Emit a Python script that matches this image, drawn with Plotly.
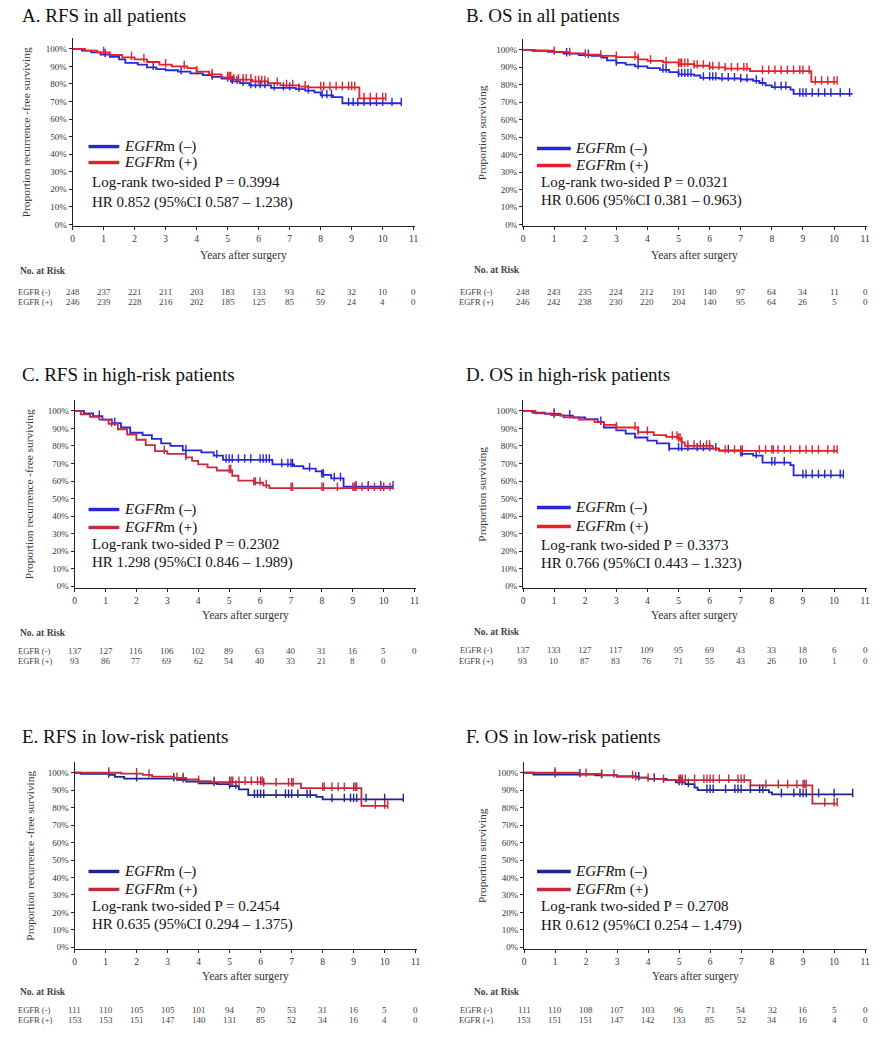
import plotly.graph_objects as go

W, H = 889, 1042
FONT = "Liberation Serif"

# ---------------- DATA ----------------
years = [0, 1, 2, 3, 4, 5, 6, 7, 8, 9, 10, 11]

# Panel A: RFS all patients
a_neg_t = [0, 0.3, 0.6, 0.9, 1.2, 1.5, 1.7, 2.1, 2.4, 2.7, 3.0, 3.4, 3.8, 4.2, 4.5, 4.8, 5.1, 5.4, 5.7, 6.4, 7.2, 7.5, 7.8, 8.0, 8.4, 8.7]
a_neg_s = [1.0, 0.99, 0.98, 0.968, 0.955, 0.94, 0.92, 0.91, 0.895, 0.885, 0.878, 0.87, 0.86, 0.85, 0.84, 0.83, 0.815, 0.805, 0.792, 0.778, 0.77, 0.762, 0.752, 0.735, 0.725, 0.69]
a_neg_end = 10.6
a_pos_t = [0, 0.4, 0.8, 1.2, 1.6, 2.0, 2.4, 2.8, 3.2, 3.7, 4.0, 4.4, 4.8, 5.2, 5.8, 6.3, 6.7, 7.3, 7.6, 9.25]
a_pos_s = [1.0, 0.99, 0.98, 0.965, 0.952, 0.94, 0.925, 0.91, 0.9, 0.89, 0.87, 0.855, 0.838, 0.825, 0.815, 0.805, 0.792, 0.785, 0.78, 0.718]
a_pos_end = 10.1
a_neg_cens = [1.05, 2.6, 3.5, 4.5, 5.0, 5.15, 5.3, 5.5, 5.75, 5.9, 6.05, 6.2, 6.5, 6.8, 7.0, 7.3, 7.6, 8.05, 8.2, 8.35, 8.9, 9.05, 9.2, 9.4, 9.6, 9.8, 10.0, 10.3, 10.6]
a_pos_cens = [1.0, 1.9, 2.3, 3.0, 3.6, 4.0, 4.5, 5.0, 5.05, 5.1, 5.2, 5.35, 5.5, 5.6, 5.75, 5.9, 6.0, 6.1, 6.2, 6.3, 6.6, 6.9, 7.1, 7.5, 8.0, 8.1, 8.3, 8.5, 8.7, 8.9, 9.0, 9.1, 9.4, 9.6, 9.8, 10.0, 10.1]
a_risk_neg = ["248", "237", "221", "211", "203", "183", "133", "93", "62", "32", "10", "0"]
a_risk_pos = ["246", "239", "228", "216", "202", "185", "125", "85", "59", "24", "4", "0"]

# Panel B: OS all patients
b_neg_t = [0, 0.3, 0.8, 1.3, 1.8, 2.2, 2.55, 2.7, 3.0, 3.3, 3.6, 4.0, 4.4, 4.7, 5.0, 5.5, 5.7, 6.3, 7.0, 7.4, 7.6, 7.8, 8.0, 8.6, 8.7]
b_neg_s = [1.0, 0.995, 0.988, 0.978, 0.97, 0.965, 0.955, 0.94, 0.925, 0.915, 0.905, 0.895, 0.885, 0.872, 0.86, 0.853, 0.84, 0.836, 0.83, 0.822, 0.81, 0.797, 0.787, 0.772, 0.748]
b_neg_end = 10.6
b_pos_t = [0, 0.4, 1.0, 1.5, 2.0, 2.5, 3.0, 3.7, 4.0, 4.5, 5.0, 5.5, 6.0, 6.5, 7.3, 9.27]
b_pos_s = [1.0, 0.995, 0.987, 0.98, 0.972, 0.966, 0.958, 0.945, 0.937, 0.928, 0.918, 0.909, 0.9, 0.893, 0.878, 0.816]
b_pos_end = 10.1
b_neg_cens = [1.4, 2.1, 3.0, 3.7, 4.5, 4.6, 5.0, 5.1, 5.2, 5.3, 5.4, 5.8, 6.0, 6.1, 6.2, 6.4, 6.6, 6.8, 7.0, 7.2, 7.5, 7.7, 8.1, 8.3, 8.45, 8.9, 9.0, 9.1, 9.3, 9.5, 9.7, 9.9, 10.2, 10.5]
b_pos_cens = [1.0, 1.5, 2.0, 2.5, 3.0, 3.6, 3.7, 4.1, 4.6, 5.0, 5.05, 5.1, 5.2, 5.3, 5.5, 5.6, 5.8, 6.0, 6.1, 6.3, 6.5, 6.7, 6.9, 7.1, 7.2, 7.7, 7.9, 8.1, 8.3, 8.5, 8.7, 8.9, 9.0, 9.2, 9.4, 9.6, 9.8, 10.0, 10.1]
b_risk_neg = ["248", "243", "235", "224", "212", "191", "140", "97", "64", "34", "11", "0"]
b_risk_pos = ["246", "242", "238", "230", "220", "204", "140", "95", "64", "26", "5", "0"]

# Panel C: RFS high-risk
c_neg_t = [0, 0.3, 0.6, 0.9, 1.2, 1.5, 1.8, 2.2, 2.5, 2.8, 3.1, 3.5, 4.1, 4.5, 4.8, 6.4, 7.1, 7.4, 7.8, 8.0, 8.3, 8.7]
c_neg_s = [1.0, 0.985, 0.97, 0.95, 0.93, 0.905, 0.875, 0.862, 0.84, 0.815, 0.8, 0.775, 0.763, 0.745, 0.72, 0.695, 0.685, 0.67, 0.655, 0.635, 0.615, 0.568]
c_neg_end = 10.3
c_pos_t = [0, 0.2, 0.5, 0.8, 1.1, 1.4, 1.7, 2.0, 2.3, 2.6, 3.0, 3.6, 3.8, 4.0, 4.3, 4.6, 5.1, 5.3, 5.8, 6.1, 6.3]
c_pos_s = [1.0, 0.98, 0.965, 0.95, 0.925, 0.895, 0.865, 0.835, 0.805, 0.77, 0.755, 0.735, 0.715, 0.695, 0.678, 0.66, 0.63, 0.602, 0.59, 0.575, 0.559]
c_pos_end = 10.3
c_neg_cens = [0.8, 1.3, 3.6, 4.6, 4.9, 5.0, 5.1, 5.3, 5.5, 5.7, 6.0, 6.1, 6.2, 6.3, 6.7, 6.9, 7.0, 7.05, 7.6, 8.0, 8.05, 8.4, 8.6, 9.1, 9.5, 9.9, 10.3]
c_pos_cens = [1.2, 2.9, 3.6, 5.0, 5.05, 5.8, 5.85, 6.0, 6.2, 7.0, 7.05, 8.0, 8.05, 8.5, 9.0, 9.05, 9.1, 9.3, 9.5, 9.7, 9.9, 10.0, 10.2]
c_risk_neg = ["137", "127", "116", "106", "102", "89", "63", "40", "31", "16", "5", "0"]
c_risk_pos = ["93", "86", "77", "69", "62", "54", "40", "33", "21", "8", "0"]

# Panel D: OS high-risk
d_neg_t = [0, 0.3, 0.7, 1.2, 1.6, 2.0, 2.4, 2.6, 3.0, 3.3, 3.6, 4.0, 4.3, 4.7, 6.3, 7.0, 7.4, 7.7, 8.6, 8.7]
d_neg_s = [1.0, 0.99, 0.982, 0.972, 0.962, 0.953, 0.935, 0.905, 0.888, 0.87, 0.848, 0.83, 0.815, 0.785, 0.775, 0.755, 0.745, 0.705, 0.69, 0.632]
d_neg_end = 10.3
d_pos_t = [0, 0.4, 0.9, 1.3, 1.8, 2.3, 2.6, 3.0, 3.7, 4.2, 4.6, 5.0, 5.1, 5.2, 6.1, 6.3]
d_pos_s = [1.0, 0.985, 0.975, 0.963, 0.95, 0.935, 0.92, 0.905, 0.878, 0.862, 0.852, 0.84, 0.82, 0.8, 0.785, 0.772]
d_pos_end = 10.1
d_neg_cens = [1.0, 1.5, 2.5, 4.7, 5.0, 5.1, 5.3, 5.6, 5.8, 6.0, 6.2, 6.6, 7.0, 7.05, 7.5, 8.0, 8.1, 8.4, 9.0, 9.1, 9.3, 9.5, 9.7, 9.9, 10.2, 10.3]
d_pos_cens = [1.0, 3.0, 3.6, 3.7, 4.0, 4.8, 4.95, 5.0, 5.05, 5.1, 5.3, 5.5, 5.7, 5.9, 6.0, 6.5, 6.8, 7.0, 7.05, 7.6, 7.8, 8.0, 8.05, 8.2, 8.4, 8.6, 8.9, 9.1, 9.3, 9.5, 9.8, 10.0, 10.1]
d_risk_neg = ["137", "133", "127", "117", "109", "95", "69", "43", "33", "18", "6", "0"]
d_risk_pos = ["93", "10", "87", "83", "76", "71", "55", "43", "26", "10", "1", "0"]

# Panel E: RFS low-risk
e_neg_t = [0, 0.2, 1.1, 1.3, 1.6, 3.3, 3.6, 4.0, 4.6, 5.0, 5.3, 5.6, 7.8, 8.0]
e_neg_s = [1.0, 0.994, 0.988, 0.976, 0.966, 0.96, 0.95, 0.94, 0.935, 0.924, 0.905, 0.872, 0.862, 0.848]
e_neg_end = 10.6
e_pos_t = [0, 1.5, 2.2, 2.5, 3.2, 3.6, 4.0, 4.4, 6.1, 7.3, 9.25]
e_pos_s = [1.0, 0.995, 0.988, 0.978, 0.97, 0.962, 0.952, 0.946, 0.938, 0.912, 0.81]
e_pos_end = 10.1
e_neg_cens = [1.1, 2.0, 3.2, 3.5, 4.5, 5.0, 5.2, 5.8, 5.9, 6.0, 6.1, 6.5, 6.8, 6.9, 7.0, 7.2, 7.5, 7.6, 8.3, 8.7, 8.9, 9.0, 9.1, 9.4, 10.0, 10.6]
e_pos_cens = [1.1, 2.0, 2.4, 3.3, 3.5, 4.0, 4.5, 5.0, 5.05, 5.1, 5.3, 5.5, 5.7, 5.9, 6.0, 6.05, 6.1, 6.5, 6.9, 7.0, 7.05, 8.0, 8.05, 8.3, 8.5, 8.7, 9.0, 9.05, 9.1, 9.7, 10.0, 10.1]
e_risk_neg = ["111", "110", "105", "105", "101", "94", "70", "53", "31", "16", "5", "0"]
e_risk_pos = ["153", "153", "151", "147", "140", "131", "85", "52", "34", "16", "4", "0"]

# Panel F: OS low-risk
f_neg_t = [0, 0.3, 2.3, 3.0, 3.7, 4.0, 4.6, 4.9, 5.2, 5.5, 5.6, 7.9, 8.0]
f_neg_s = [1.0, 0.99, 0.985, 0.978, 0.972, 0.965, 0.958, 0.945, 0.935, 0.915, 0.9, 0.888, 0.876]
f_neg_end = 10.6
f_pos_t = [0, 1.8, 2.5, 3.0, 3.6, 4.0, 4.5, 7.3, 9.3]
f_pos_s = [1.0, 0.993, 0.987, 0.98, 0.972, 0.965, 0.958, 0.928, 0.823]
f_pos_end = 10.1
f_neg_cens = [1.0, 1.8, 2.5, 3.7, 4.2, 5.0, 5.1, 5.3, 5.9, 6.0, 6.1, 6.5, 6.8, 6.9, 7.0, 7.3, 7.6, 7.7, 8.3, 8.7, 8.9, 9.0, 9.1, 9.5, 10.0, 10.6]
f_pos_cens = [1.0, 2.0, 2.5, 2.9, 3.5, 3.6, 4.0, 4.5, 5.0, 5.05, 5.1, 5.2, 5.5, 5.8, 5.9, 6.0, 6.1, 6.3, 6.6, 6.9, 7.0, 7.1, 7.8, 8.2, 8.5, 8.8, 9.0, 9.05, 9.1, 9.7, 10.0, 10.1]
f_risk_neg = ["111", "110", "108", "107", "103", "96", "71", "54", "32", "16", "5", "0"]
f_risk_pos = ["153", "151", "151", "147", "142", "133", "85", "52", "34", "16", "4", "0"]

titles = ["A. RFS in all patients", "B. OS in all patients",
          "C. RFS in high-risk patients", "D. OS in high-risk patients",
          "E. RFS in low-risk patients", "F. OS in low-risk patients"]
ytitles = ["Proportion recurrence -free surviving", "Proportion surviving"] * 3
pvals = ["0.3994", "0.0321", "0.2302", "0.3373", "0.2454", "0.2708"]
hrs = ["HR 0.852 (95%CI 0.587 – 1.238)", "HR 0.606 (95%CI 0.381 – 0.963)",
       "HR 1.298 (95%CI 0.846 – 1.989)", "HR 0.766 (95%CI 0.443 – 1.323)",
       "HR 0.635 (95%CI 0.294 – 1.375)", "HR 0.612 (95%CI 0.254 – 1.479)"]
legend_neg = "<i>EGFR</i>m (–)"
legend_pos = "<i>EGFR</i>m (+)"
risk_labels = ["EGFR (-)", "EGFR (+)"]

curves = [
    (a_neg_t, a_neg_s, a_neg_end, a_neg_cens, a_pos_t, a_pos_s, a_pos_end, a_pos_cens, a_risk_neg, a_risk_pos),
    (b_neg_t, b_neg_s, b_neg_end, b_neg_cens, b_pos_t, b_pos_s, b_pos_end, b_pos_cens, b_risk_neg, b_risk_pos),
    (c_neg_t, c_neg_s, c_neg_end, c_neg_cens, c_pos_t, c_pos_s, c_pos_end, c_pos_cens, c_risk_neg, c_risk_pos),
    (d_neg_t, d_neg_s, d_neg_end, d_neg_cens, d_pos_t, d_pos_s, d_pos_end, d_pos_cens, d_risk_neg, d_risk_pos),
    (e_neg_t, e_neg_s, e_neg_end, e_neg_cens, e_pos_t, e_pos_s, e_pos_end, e_pos_cens, e_risk_neg, e_risk_pos),
    (f_neg_t, f_neg_s, f_neg_end, f_neg_cens, f_pos_t, f_pos_s, f_pos_end, f_pos_cens, f_risk_neg, f_risk_pos),
]

# ---------------- LAYOUT (pixel positions) ----------------
colors = [("#2727d6", "#e5202b"), ("#2727d6", "#e5202b"), ("#2727d6", "#c42a3e"),
          ("#2727d6", "#e5202b"), ("#1d2590", "#c22a3c"), ("#1d2590", "#c22a3c")]

L = [
    dict(x0=71, x11=414, y0=225, y100=49, tx=18, ty=16, ytx=25, lx0=87, lx1=118, ly=(147, 163), ltx=121, sx=88, sy=(183, 203), xty=256, hx=16, hy=272, ry=(293, 303), rlx=33),
    dict(x0=524, x11=868, y0=225, y100=50, tx=465, ty=16, ytx=483, lx0=538, lx1=572, ly=(149, 166), ltx=574, sx=540, sy=(183, 201), xty=256, hx=473, hy=271, ry=(293, 303), rlx=477),
    dict(x0=73, x11=415, y0=588, y100=412, tx=18, ty=376, ytx=28, lx0=87, lx1=118, ly=(511, 529), ltx=121, sx=88, sy=(546, 564), xty=617, hx=16, hy=635, ry=(653, 663), rlx=33),
    dict(x0=524, x11=868, y0=588, y100=412, tx=465, ty=376, ytx=483, lx0=538, lx1=572, ly=(509, 528), ltx=574, sx=540, sy=(547, 565), xty=617, hx=473, hy=634, ry=(652, 663), rlx=477),
    dict(x0=73, x11=416, y0=950, y100=775, tx=18, ty=739, ytx=28, lx0=87, lx1=118, ly=(874, 892), ltx=121, sx=88, sy=(909, 927), xty=979, hx=16, hy=995, ry=(1013, 1023), rlx=33),
    dict(x0=525, x11=868, y0=950, y100=775, tx=465, ty=739, ytx=483, lx0=538, lx1=572, ly=(874, 892), ltx=574, sx=540, sy=(909, 928), xty=979, hx=473, hy=995, ry=(1013, 1023), rlx=477),
]

XMAX = 11.05
YMIN, YMAX = -0.012, 1.06


def px(x):
    return x / W


def py(y):
    return 1 - y / H


def step_at(ts, ss, t):
    v = ss[0]
    for ti, si in zip(ts, ss):
        if ti <= t:
            v = si
    return v


fig = go.Figure()
annotations = []
shapes = []
layout_axes = {}

for i, (spec, cv) in enumerate(zip(L, curves)):
    n = "" if i == 0 else str(i + 1)
    xa, ya = "x" + n, "y" + n
    cneg, cpos = colors[i]
    nt, ns, nend, ncens, pt_, ps, pend, pcens, rneg, rpos = cv

    for ts, ss, end, cens, col in [(nt, ns, nend, ncens, cneg), (pt_, ps, pend, pcens, cpos)]:
        fig.add_trace(go.Scatter(x=list(ts) + [end], y=list(ss) + [ss[-1]], mode="lines",
                                 line=dict(shape="hv", color=col, width=1.8),
                                 xaxis=xa, yaxis=ya, showlegend=False, hoverinfo="skip"))
        fig.add_trace(go.Scatter(x=cens, y=[step_at(ts, ss, c) + 0.008 for c in cens], mode="markers",
                                 marker=dict(symbol="line-ns-open", size=6, color=col,
                                             line=dict(width=1.4, color=col)),
                                 xaxis=xa, yaxis=ya, showlegend=False, hoverinfo="skip"))

    ppy = spec["x11"] - spec["x0"]
    xdom = [px(spec["x0"]), px(spec["x0"] + XMAX * ppy / 11)]
    hpu = spec["y0"] - spec["y100"]
    ybot = spec["y0"] - YMIN * hpu
    ytop = spec["y100"] - (YMAX - 1) * hpu
    ydom = [py(ybot), py(ytop)]

    layout_axes["xaxis" + n] = dict(domain=xdom, range=[0, XMAX], anchor=ya, tickvals=years,
                                    ticks="outside", ticklen=3, tickwidth=1, tickcolor="#222",
                                    showline=True, linecolor="#222", linewidth=1,
                                    showgrid=False, zeroline=False, fixedrange=True,
                                    tickfont=dict(family=FONT, size=9.5, color="#333"))
    layout_axes["yaxis" + n] = dict(domain=ydom, range=[YMIN, YMAX], anchor=xa,
                                    tickvals=[0, 0.1, 0.2, 0.3, 0.4, 0.5, 0.6, 0.7, 0.8, 0.9, 1.0],
                                    tickformat=".0%", ticks="outside", ticklen=3, tickwidth=1,
                                    tickcolor="#222", showline=True, linecolor="#222", linewidth=1,
                                    showgrid=False, zeroline=False, fixedrange=True,
                                    tickfont=dict(family=FONT, size=9, color="#333"))

    annotations.append(dict(text=titles[i], x=px(spec["tx"]), y=py(spec["ty"]), xref="paper", yref="paper",
                            xanchor="left", yanchor="middle", showarrow=False,
                            font=dict(family=FONT, size=19, color="#111")))
    annotations.append(dict(text=ytitles[i], x=px(spec["ytx"]), y=(ydom[0] + ydom[1]) / 2,
                            xref="paper", yref="paper", textangle=-90, xanchor="center", yanchor="middle",
                            showarrow=False, font=dict(family=FONT, size=11.4, color="#333")))
    annotations.append(dict(text="Years after surgery", x=(xdom[0] + xdom[1]) / 2, y=py(spec["xty"]),
                            xref="paper", yref="paper", xanchor="center", yanchor="middle",
                            showarrow=False, font=dict(family=FONT, size=11.5, color="#333")))
    for k, (lab, col) in enumerate([(legend_neg, cneg), (legend_pos, cpos)]):
        yy = py(spec["ly"][k])
        shapes.append(dict(type="line", xref="paper", yref="paper", x0=px(spec["lx0"]), x1=px(spec["lx1"]),
                           y0=yy, y1=yy, line=dict(color=col, width=3.4)))
        annotations.append(dict(text=lab, x=px(spec["ltx"]), y=yy, xref="paper", yref="paper",
                                xanchor="left", yanchor="middle", showarrow=False,
                                font=dict(family=FONT, size=15, color="#111")))
    annotations.append(dict(text="Log-rank two-sided P = " + pvals[i], x=px(spec["sx"]), y=py(spec["sy"][0]),
                            xref="paper", yref="paper", xanchor="left", yanchor="middle", showarrow=False,
                            font=dict(family=FONT, size=15, color="#111")))
    annotations.append(dict(text=hrs[i], x=px(spec["sx"]), y=py(spec["sy"][1]),
                            xref="paper", yref="paper", xanchor="left", yanchor="middle", showarrow=False,
                            font=dict(family=FONT, size=15, color="#111")))
    annotations.append(dict(text="<b>No. at Risk</b>", x=px(spec["hx"]), y=py(spec["hy"]),
                            xref="paper", yref="paper", xanchor="left", yanchor="middle", showarrow=False,
                            font=dict(family=FONT, size=9.5, color="#444")))
    for k, row in enumerate([rneg, rpos]):
        yy = py(spec["ry"][k])
        annotations.append(dict(text=risk_labels[k], x=px(spec["rlx"]), y=yy, xref="paper", yref="paper",
                                xanchor="center", yanchor="middle", showarrow=False,
                                font=dict(family=FONT, size=8.5, color="#444")))
        for yr, val in zip(years, row):
            annotations.append(dict(text=val, x=yr, y=yy, xref=xa, yref="paper",
                                    xanchor="center", yanchor="middle", showarrow=False,
                                    font=dict(family=FONT, size=9, color="#444")))

fig.update_layout(width=W, height=H, margin=dict(l=0, r=0, t=0, b=0),
                  paper_bgcolor="white", plot_bgcolor="white",
                  annotations=annotations, shapes=shapes, showlegend=False, **layout_axes)

fig.write_html("out.html", config={"displayModeBar": False},
               post_script="document.body.style.margin='0px';document.body.style.overflow='hidden';")
